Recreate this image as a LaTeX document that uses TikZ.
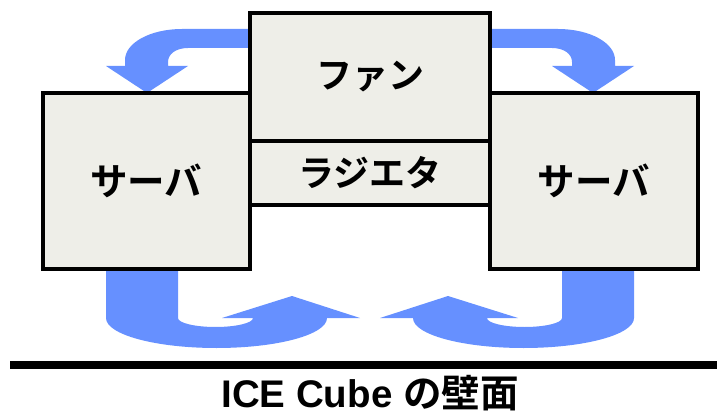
\documentclass[tikz,border=0pt]{standalone}
\usepackage{fontspec}
\newfontfamily\jp{Noto Sans CJK JP}[BoldFont={Noto Sans CJK JP Bold}]
\newfontfamily\lat{Liberation Sans}
\definecolor{boxfill}{RGB}{238,238,232}
\definecolor{arrowblue}{RGB}{102,144,255}
\tikzset{
  box/.style={draw=black, line width=4pt, fill=boxfill, font=\jp\bfseries\fontsize{36}{40}\selectfont, inner sep=0pt},
  flow/.style={fill=arrowblue, draw=none},
}
\begin{document}
\begin{tikzpicture}[x=1pt,y=-1pt]
\useasboundingbox (0,0) rectangle (727,414);
% top arrows
\path[flow] (252,29) -- (182,29) .. controls (150,29) and (125,43) .. (125,60) -- (125,66) -- (106,66) -- (147,93) -- (188,66) -- (168,66) -- (168,62) .. controls (168,54) and (176,48) .. (188,48) -- (252,48) -- cycle;
\begin{scope}[shift={(740,0)},xscale=-1]
\path[flow] (252,29) -- (182,29) .. controls (150,29) and (125,43) .. (125,60) -- (125,66) -- (106,66) -- (147,93) -- (188,66) -- (168,66) -- (168,62) .. controls (168,54) and (176,48) .. (188,48) -- (252,48) -- cycle;
\end{scope}
% bottom arrows
\path[flow] (106,265) -- (106,318) .. controls (106,334.6) and (155.5,348) .. (216.5,348) .. controls (277.5,348) and (327,334.6) .. (327,318) -- (360,318) -- (292,296) -- (222,318) -- (253,318) .. controls (253,323) and (236,327) .. (215.5,327) .. controls (195,327) and (178,323) .. (178,318) -- (178,265) -- cycle;
\begin{scope}[shift={(740,0)},xscale=-1]
\path[flow] (106,265) -- (106,318) .. controls (106,334.6) and (155.5,348) .. (216.5,348) .. controls (277.5,348) and (327,334.6) .. (327,318) -- (360,318) -- (292,296) -- (222,318) -- (253,318) .. controls (253,323) and (236,327) .. (215.5,327) .. controls (195,327) and (178,323) .. (178,318) -- (178,265) -- cycle;
\end{scope}
% boxes
\node[box, font=\jp\bfseries\fontsize{37.5}{40}\selectfont, minimum width=207.5pt, minimum height=176pt] (lserver) at (146.25,181) {サーバ};
\node[box, font=\jp\bfseries\fontsize{37.5}{40}\selectfont, minimum width=207.5pt, minimum height=176pt] (rserver) at (593.75,181) {サーバ};
\node[box, minimum width=240pt, minimum height=128pt] (fan) at (370,77) {ファン};
\node[box, minimum width=240pt, minimum height=64pt] (rad) at (370,173) {ラジエタ};
% wall
\coordinate (wl) at (10,365);
\coordinate (wr) at (717,365);
\draw[line width=8pt] (wl) -- (wr);
\node[font=\fontsize{38.5}{42}\selectfont\bfseries, inner sep=0pt, anchor=base] (wall) at (370,407) {{\lat\bfseries ICE Cube }{\jp\bfseries の壁面}};
\end{tikzpicture}
\end{document}
